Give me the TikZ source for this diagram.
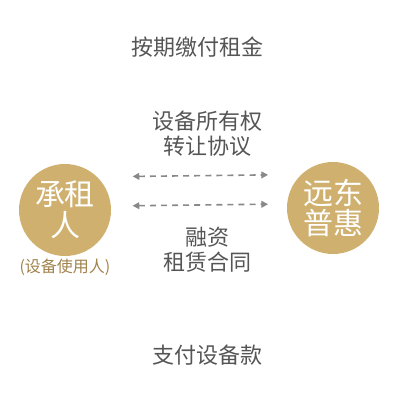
\documentclass[tikz,border=0pt]{standalone}
\usepackage{fontspec}
\setmainfont{Noto Sans CJK SC}
\usetikzlibrary{arrows.meta}
\definecolor{gold}{RGB}{207,176,110}
\definecolor{goldtext}{RGB}{160,130,75}
\definecolor{txt}{RGB}{85,85,85}
\definecolor{arr}{RGB}{136,136,136}
\tikzset{
  party/.style={circle,fill=gold,minimum size=92*0.75pt,inner sep=0pt,text=white,font=\fontsize{22.5}{23}\selectfont,align=center},
  lbl/.style={text=txt,font=\fontsize{16.5}{18.5}\selectfont,align=center,inner sep=0pt},
  sublbl/.style={text=goldtext,font=\fontsize{12}{14}\selectfont,inner sep=0pt},
  flow/.style={draw=arr,line width=1.2pt,dash pattern=on 4.5pt off 3.8pt,{Triangle[length=5pt,width=5pt]}-{Triangle[length=5pt,width=5pt]},shorten <=16pt,shorten >=14pt}
}
\begin{document}
\begin{tikzpicture}[x=0.75pt,y=-0.75pt]
\useasboundingbox (0,0) rectangle (400,400);
\node[party] (L) at (65,210) {承租\\人};
\node[party] (R) at (333,208) {远东\\普惠};
\node[sublbl] (Ls) at (65,267) {(设备使用人)};
\node[lbl] (t1) at (197,47) {按期缴付租金};
\node[lbl] (t2) at (207,134) {设备所有权\\转让协议};
\node[lbl] (t3) at (207,250) {融资\\租赁合同};
\node[lbl] (t4) at (207,355) {支付设备款};
\draw[flow] ([yshift=25pt]L.east) -- ([yshift=25pt]R.west);
\draw[flow] ([yshift=3pt]L.east) -- ([yshift=3pt]R.west);
\end{tikzpicture}
\end{document}
